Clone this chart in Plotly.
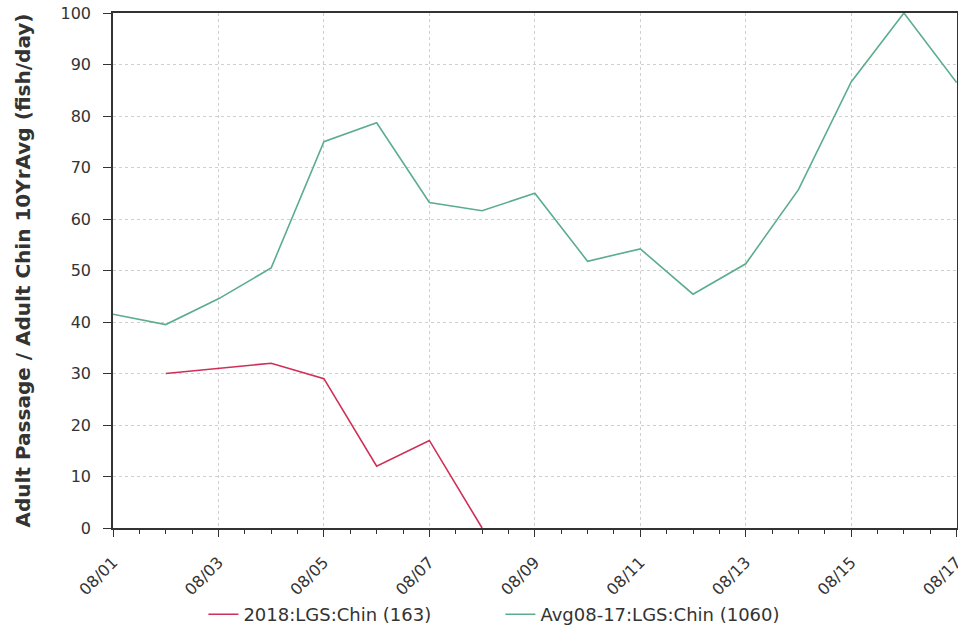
import plotly.graph_objects as go

dates_avg = ["2018-08-01", "2018-08-02", "2018-08-03", "2018-08-04", "2018-08-05", "2018-08-06",
             "2018-08-07", "2018-08-08", "2018-08-09", "2018-08-10", "2018-08-11", "2018-08-12",
             "2018-08-13", "2018-08-14", "2018-08-15", "2018-08-16", "2018-08-17"]
avg_values = [41.5, 39.5, 44.5, 50.5, 75.0, 78.7, 63.2, 61.6, 65.0, 51.8, 54.2, 45.4,
              51.3, 65.7, 86.6, 100.0, 86.5]

dates_2018 = ["2018-08-02", "2018-08-03", "2018-08-04", "2018-08-05", "2018-08-06",
              "2018-08-07", "2018-08-08"]
values_2018 = [30, 31, 32, 29, 12, 17, 0]

name_2018 = "2018:LGS:Chin (163)"
name_avg = "Avg08-17:LGS:Chin (1060)"
y_title = "Adult Passage / Adult Chin 10YrAvg (fish/day)"

fig = go.Figure()
fig.add_trace(go.Scatter(x=dates_2018, y=values_2018, mode="lines", name=name_2018,
                         line=dict(color="#cf2f56", width=1.6)))
fig.add_trace(go.Scatter(x=dates_avg, y=avg_values, mode="lines", name=name_avg,
                         line=dict(color="#5cad8d", width=1.6)))

font_family = "DejaVu Sans, Verdana, sans-serif"
fig.update_layout(
    width=958, height=633,
    margin=dict(l=113, r=1, t=13, b=104),
    paper_bgcolor="white", plot_bgcolor="white",
    font=dict(family=font_family, color="#333333", size=16),
    showlegend=True,
    legend=dict(orientation="h", x=0.459, xanchor="center", y=-0.167, yanchor="middle",
                font=dict(size=18, color="#333333"), entrywidth=252, itemwidth=30),
    xaxis=dict(
        type="date", range=["2018-08-01 00:00", "2018-08-17 00:10"],
        tickformat="%m/%d", dtick=2 * 86400000, tick0="2018-08-01",
        tickangle=-45, ticks="outside", ticklen=7, tickcolor="#333333",
        showline=True, linecolor="#333333", linewidth=1.5, mirror=True,
        showgrid=True, gridcolor="#d0d0d0", griddash="dot", gridwidth=1,
        minor=dict(dtick=43200000, ticks="outside", ticklen=4, tickcolor="#333333", showgrid=False),
        tickfont=dict(size=16), automargin=False, zeroline=False, ticklabelstandoff=10,
        ticklabeloverflow="allow",
    ),
    yaxis=dict(
        range=[0, 100], dtick=10, ticks="outside", ticklen=8, tickcolor="#333333",
        showline=True, linecolor="#333333", linewidth=1.5, mirror=True,
        showgrid=True, gridcolor="#d0d0d0", griddash="dot", gridwidth=1,
        tickfont=dict(size=16), zeroline=False, automargin=False, ticklabelstandoff=9,
        title=dict(text=y_title, font=dict(size=20, family="DejaVu Sans, sans-serif", weight="bold"),
                   standoff=25),
    ),
)

fig.write_html("out.html", config={"displayModeBar": False},
               post_script="document.body.style.margin='0';")
